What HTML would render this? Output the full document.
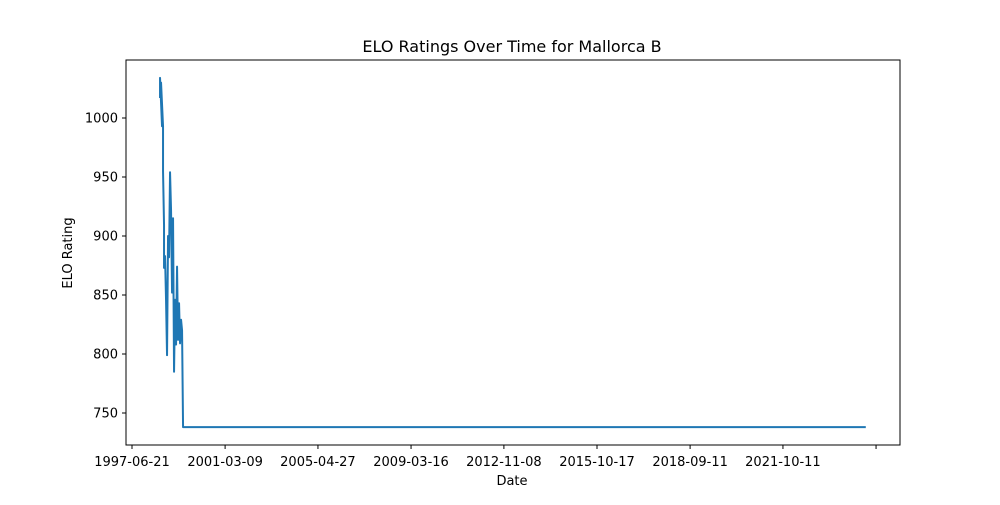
<!DOCTYPE html>
<html><head><meta charset="utf-8"><style>
body{margin:0;background:#fff;font-family:"Liberation Sans","DejaVu Sans",sans-serif}
svg text{font-family:"DejaVu Sans","Liberation Sans",sans-serif}
</style></head><body>
<svg id="c" width="1000" height="500" xmlns="http://www.w3.org/2000/svg">
<rect width="1000" height="500" fill="#fff"/>
<text x="512" y="52" text-anchor="middle" font-size="16">ELO Ratings Over Time for Mallorca B</text>
<text x="512" y="485" text-anchor="middle" font-size="13">Date</text>
<text x="72" y="253" text-anchor="middle" font-size="13" transform="rotate(-90 72 253)">ELO Rating</text>
<g id="g"></g>
<rect x="126" y="60" width="774" height="385" fill="none" stroke="#000" stroke-width="1"/>
</svg>
<script>
const dates=[1998.59,1998.59,1998.67,1998.63,1998.71,1998.71,1998.75,1998.75,1998.79,1998.83,1998.87,1998.91,1998.95,1998.99,1999.03,1999.07,1999.11,1999.15,1999.19,1999.23,1999.27,1999.31,1999.35,1999.39,1999.43,1999.47,1999.51,2026.79];
const ratings=[1017,1034,993,1030,993,955,909,873,883,846,799,900,882,954,922,852,915,785,846,808,874,812,843,809,829,820,738,738];
const yTicks=[750,800,850,900,950,1000];
const xTickLabels=["1997-06-21","2001-03-09","2005-04-27","2009-03-16","2012-11-08","2015-10-17","2018-09-11","2021-10-11",""];
const xTickDates=[1997.47,2001.19,2004.90,2008.62,2012.33,2016.05,2019.77,2023.48,2027.20];
const NS="http://www.w3.org/2000/svg";
const g=document.getElementById('g');
const xs=d=>132+(d-1997.47)/3.716*93;
const ys=v=>118-(v-1000)*59/50;
function mk(t,a){const e=document.createElementNS(NS,t);for(const k in a)e.setAttribute(k,a[k]);g.appendChild(e);return e;}
yTicks.forEach(v=>{
 const y=ys(v);
 const t=mk('line',{x1:122,x2:126,y1:y,y2:y,stroke:'#000'});
 
 
 const l=mk('text',{x:118,y:y+4.5,'text-anchor':'end','font-size':13});
 l.textContent=v;
 
 
});
xTickDates.forEach((d,i)=>{
 const x=xs(d);
 const t=mk('line',{x1:x,x2:x,y1:445,y2:449,stroke:'#000'});
 
 
 const l=mk('text',{x:x,y:466,'text-anchor':'middle','font-size':13});
 l.textContent=xTickLabels[i];
 
 
});
const p=mk('polyline',{points:dates.map((d,i)=>xs(d)+','+ys(ratings[i])).join(' '),fill:'none',stroke:'#1f77b4','stroke-width':2,'stroke-linejoin':'round'});


</script>
</body></html>
